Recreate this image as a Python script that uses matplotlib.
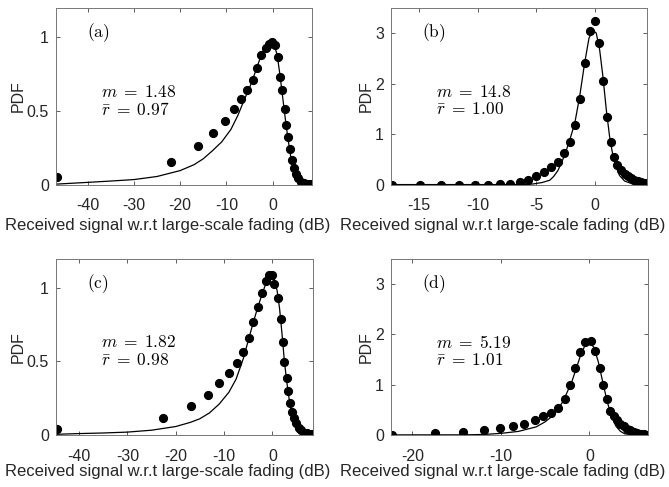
import matplotlib
matplotlib.use("Agg")
import matplotlib.pyplot as plt

plt.rcParams['font.family'] = ['Liberation Sans', 'DejaVu Sans']
plt.rcParams['mathtext.fontset'] = 'cm'
plt.rcParams['axes.unicode_minus'] = False

# panel (a)
a_meas_x = [-46.7, -22.0, -16.2, -12.8, -10.3, -8.4, -6.9, -5.5, -4.3, -3.3, -2.4, -1.5,
            -0.8, -0.2, 0.5, 1.1, 1.7, 2.0, 2.6, 2.95, 3.4, 3.8, 4.25, 4.65, 5.05, 5.5,
            6.1, 6.9, 7.6, 8.3, 8.6]
a_meas_y = [0.05, 0.15, 0.26, 0.35, 0.43, 0.51, 0.58, 0.643, 0.71, 0.79, 0.88, 0.93,
            0.955, 0.965, 0.945, 0.865, 0.733, 0.64, 0.51, 0.406, 0.324, 0.244, 0.17,
            0.113, 0.075, 0.043, 0.02, 0.01, 0.005, 0.003, 0.002]
a_fit_x = [-46.9, -40, -35, -30, -25, -20, -17, -15, -13, -11, -9, -7.5, -6, -5, -4, -3,
           -2, -1.3, -0.6, 0, 0.5, 1, 1.5, 2, 2.5, 3, 3.5, 4, 4.5, 5, 5.5, 6, 7, 8.6]
a_fit_y = [0.003, 0.015, 0.024, 0.034, 0.055, 0.095, 0.135, 0.175, 0.23, 0.29, 0.375,
           0.47, 0.585, 0.655, 0.74, 0.83, 0.91, 0.95, 0.97, 0.965, 0.935, 0.88, 0.77,
           0.645, 0.515, 0.39, 0.28, 0.18, 0.095, 0.04, 0.015, 0.006, 0.001, 0.0]

# panel (b)
b_meas_x = [-17.33, -14.9, -13.1, -11.6, -10.2, -9.15, -8.12, -7.2, -6.4, -5.7, -4.97,
            -4.35, -3.7, -3.13, -2.64, -2.13, -1.68, -1.28, -0.83, -0.43, 0.0, 0.34,
            0.71, 1.05, 1.42, 1.7, 1.95, 2.27, 2.56, 2.84, 3.1, 3.4, 3.7, 3.98, 4.26, 4.49]
b_meas_y = [0.0, 0.0, 0.0, 0.0, 0.0, 0.0, 0.01, 0.02, 0.05, 0.1, 0.17, 0.25, 0.35, 0.45,
            0.63, 0.85, 1.18, 1.7, 2.41, 3.05, 3.23, 2.8, 2.05, 1.34, 0.85, 0.55, 0.38,
            0.28, 0.2, 0.16, 0.13, 0.1, 0.08, 0.06, 0.04, 0.03]
b_fit_x = [-17.4, -8, -6, -5.26, -4.5, -3.84, -3.5, -3.13, -2.56, -2.13, -1.7, -1.28,
           -0.85, -0.48, -0.14, 0.14, 0.43, 0.71, 1.0, 1.28, 1.56, 1.85, 2.13, 2.56,
           3.27, 4.5]
b_fit_y = [0.0, 0.0, 0.003, 0.012, 0.04, 0.085, 0.16, 0.28, 0.58, 0.88, 1.21, 1.74,
           2.41, 2.9, 3.05, 3.0, 2.67, 2.14, 1.48, 0.95, 0.58, 0.35, 0.18, 0.07, 0.01, 0.0]

# panel (c)
c_meas_x = [-44.6, -22.6, -16.8, -13.3, -11.0, -8.9, -7.3, -6.1, -4.9, -3.9, -3.0, -2.1,
            -1.37, -0.75, -0.06, 0.35, 1.25, 1.74, 2.15, 2.5, 2.98, 3.3, 3.66, 4.1, 4.5,
            4.9, 5.5, 6.0, 6.5, 7.1, 7.6, 8.2]
c_meas_y = [0.041, 0.114, 0.198, 0.273, 0.352, 0.42, 0.49, 0.564, 0.659, 0.768, 0.868,
            0.965, 1.045, 1.09, 1.09, 1.03, 0.93, 0.79, 0.63, 0.495, 0.39, 0.3, 0.216,
            0.155, 0.114, 0.08, 0.05, 0.03, 0.015, 0.01, 0.005, 0.003]
c_fit_x = [-44.8, -40, -35, -30, -25, -20, -17, -15, -13, -11, -9, -7.5, -6, -5, -4, -3,
           -2, -1, -0.3, 0.3, 1, 1.5, 2, 2.5, 3, 3.5, 4, 4.5, 5, 5.5, 6, 7, 8.4]
c_fit_y = [0.004, 0.009, 0.013, 0.019, 0.032, 0.057, 0.085, 0.11, 0.15, 0.21, 0.29, 0.38,
           0.52, 0.64, 0.76, 0.87, 0.97, 1.06, 1.09, 1.075, 0.98, 0.86, 0.69, 0.5, 0.36,
           0.24, 0.14, 0.075, 0.035, 0.015, 0.006, 0.001, 0.0]

# panel (d)
d_meas_x = [-22.3, -17.4, -14.3, -11.9, -10.15, -8.6, -7.4, -6.2, -5.25, -4.35, -3.5,
            -2.8, -2.16, -1.59, -1.02, -0.49, 0.15, 0.68, 1.14, 1.52, 1.98, 2.35, 2.73,
            3.1, 3.5, 3.88, 4.26, 4.6, 5.0, 5.4, 5.8, 6.2, 6.6]
d_meas_y = [0.0, 0.03, 0.05, 0.1, 0.14, 0.18, 0.22, 0.3, 0.37, 0.44, 0.53, 0.71, 1.0,
            1.33, 1.65, 1.85, 1.86, 1.66, 1.32, 0.99, 0.705, 0.48, 0.37, 0.29, 0.22,
            0.17, 0.12, 0.09, 0.05, 0.03, 0.02, 0.01, 0.005]
d_fit_x = [-22.4, -14, -12, -10, -8, -6, -5, -4, -3, -2, -1, -0.5, -0.1, 0.5, 1, 1.5, 2,
           2.5, 3, 3.5, 4, 5, 6.6]
d_fit_y = [0.0, 0.001, 0.008, 0.03, 0.07, 0.16, 0.26, 0.4, 0.66, 1.05, 1.58, 1.78, 1.85,
           1.74, 1.45, 1.05, 0.66, 0.37, 0.17, 0.07, 0.02, 0.003, 0.0]

labels = ['a', 'b', 'c', 'd']
m_vals = ['1.48', '14.8', '1.82', '5.19']
r_vals = ['0.97', '1.00', '0.98', '1.01']
xlims = [(-46.9, 8.6), (-17.4, 4.5), (-44.8, 8.4), (-22.4, 6.6)]
ylims = [(0, 1.2), (0, 3.5), (0, 1.2), (0, 3.5)]
xticks = [[-40, -30, -20, -10, 0], [-15, -10, -5, 0], [-40, -30, -20, -10, 0], [-20, -10, 0]]
yticks = [[0, 0.5, 1], [0, 1, 2, 3], [0, 0.5, 1], [0, 1, 2, 3]]
ytick_labels = [['0', '0.5', '1'], ['0', '1', '2', '3'], ['0', '0.5', '1'], ['0', '1', '2', '3']]

meas = [(a_meas_x, a_meas_y), (b_meas_x, b_meas_y), (c_meas_x, c_meas_y), (d_meas_x, d_meas_y)]
fits = [(a_fit_x, a_fit_y), (b_fit_x, b_fit_y), (c_fit_x, c_fit_y), (d_fit_x, d_fit_y)]

fig = plt.figure(figsize=(6.69, 4.87), dpi=100)
rects = [[0.0837, 0.621, 0.383, 0.363], [0.5845, 0.621, 0.383, 0.363],
         [0.0837, 0.107, 0.384, 0.362], [0.5845, 0.107, 0.384, 0.362]]
xlabel_y = [-0.19, -0.19, -0.165, -0.165]

for i in range(4):
    ax = fig.add_axes(rects[i])
    ax.plot(fits[i][0], fits[i][1], color='black', lw=0.9)
    ax.plot(meas[i][0], meas[i][1], 'o', color='black', markersize=5.6)
    ax.set_xlim(xlims[i])
    ax.set_ylim(ylims[i])
    ax.set_xticks(xticks[i])
    ax.set_yticks(yticks[i])
    ax.set_yticklabels(ytick_labels[i])
    ax.tick_params(direction='in', top=True, right=True, length=3, width=0.6,
                   color='#444444', labelsize=11.5, labelcolor='#262626')
    ax.tick_params(axis='x', pad=10)
    ax.tick_params(axis='y', pad=5)
    for s in ax.spines.values():
        s.set_color('#777777')
        s.set_linewidth(0.7)
    ax.set_xlabel('Received signal w.r.t large-scale fading (dB)', fontsize=12,
                  color='#262626')
    ax.xaxis.set_label_coords(0.435, xlabel_y[i])
    ax.xaxis.label.set_verticalalignment('top')
    ax.set_ylabel('PDF', fontsize=11.5, color='#262626', labelpad=1)
    ax.text(0.122, 0.86, r'$\mathrm{(' + labels[i] + ')}$', transform=ax.transAxes,
            fontsize=12.5, va='center', ha='left')
    ax.text(0.176, 0.525, r'$m\;=\;' + m_vals[i] + '$', transform=ax.transAxes,
            fontsize=12.5, va='center', ha='left')
    ax.text(0.176, 0.427, r'$\bar{r}\;=\;' + r_vals[i] + '$', transform=ax.transAxes,
            fontsize=12.5, va='center', ha='left')

fig.savefig('out.png', dpi=100)
